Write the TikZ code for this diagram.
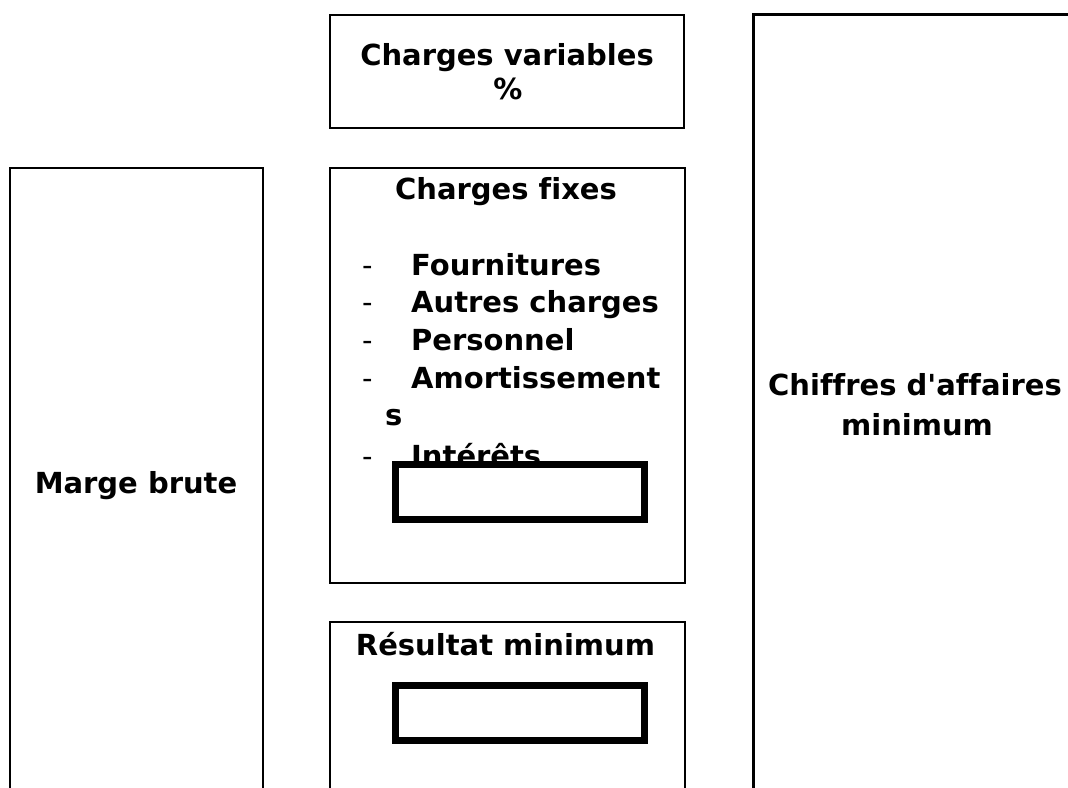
\documentclass[tikz,border=0pt]{standalone}
\usepackage{fontspec}
\newfontfamily\lblfont{DejaVu Sans}[Ligatures={NoCommon}]
\begin{document}
\tikzset{
  frame/.style={draw, line width=2.8pt, inner sep=0pt},
  inbox/.style={draw, fill=white, line width=6.5pt, inner sep=0pt, minimum width=249pt, minimum height=55pt},
  lbl/.style={font=\lblfont\fontsize{29}{35}\selectfont\bfseries, inner sep=0pt},
  dsh/.style={font=\lblfont\fontsize{29}{35}\selectfont, inner sep=0pt},
}
\begin{tikzpicture}[x=1pt,y=-1pt]
\useasboundingbox (0,0) rectangle (1068,787);
\clip (0,0) rectangle (1068,787);
\fill[white] (0,0) rectangle (1068,787);
% frames
\node[frame, minimum width=354pt, minimum height=113pt] (cv) at (507,71.5) {};
\node[frame, minimum width=355pt, minimum height=415pt] (cf) at (507.5,375.5) {};
\node[frame, minimum width=355pt, minimum height=200pt] (rm) at (507.5,722) {};
\node[frame, minimum width=253pt, minimum height=650pt] (mb) at (136.5,493) {};
\node[frame, minimum width=340pt, minimum height=800pt] (ca) at (923.5,414.7) {};
% texts
\node[lbl, anchor=base] (cvt1) at (507,65) {Charges variables};
\node[lbl, anchor=base] (cvt2) at (508,99) {\%};
\node[lbl, anchor=base] (cft) at (506,199) {Charges fixes};
\node[dsh, anchor=base west] (d1) at (362,275) {-};
\node[lbl, anchor=base west] (l1) at (411,275) {Fournitures};
\node[dsh, anchor=base west] (d2) at (362,312) {-};
\node[lbl, anchor=base west] (l2) at (411,312) {Autres charges};
\node[dsh, anchor=base west] (d3) at (362,350) {-};
\node[lbl, anchor=base west] (l3) at (411,350) {Personnel};
\node[dsh, anchor=base west] (d4) at (362,388) {-};
\node[lbl, anchor=base west] (l4) at (411,388) {Amortissement};
\node[lbl, anchor=base west] (l4b) at (385,425) {s};
\node[dsh, anchor=base west] (d5) at (362,466) {-};
\node[lbl, anchor=base west] (l5) at (411,466) {Intérêts};
% inner boxes
\node[inbox] (cfbox) at (520,492) {};
\node[inbox] (rmbox) at (520,713) {};
\node[lbl, anchor=base] (rmt) at (505.5,655) {Résultat minimum};
\node[lbl, anchor=base] (mbt) at (136,493) {Marge brute};
\node[lbl, anchor=base] (cat1) at (915,395) {Chiffres d\char"0027 affaires};
\node[lbl, anchor=base] (cat2) at (917,435) {minimum};
\end{tikzpicture}
\end{document}
